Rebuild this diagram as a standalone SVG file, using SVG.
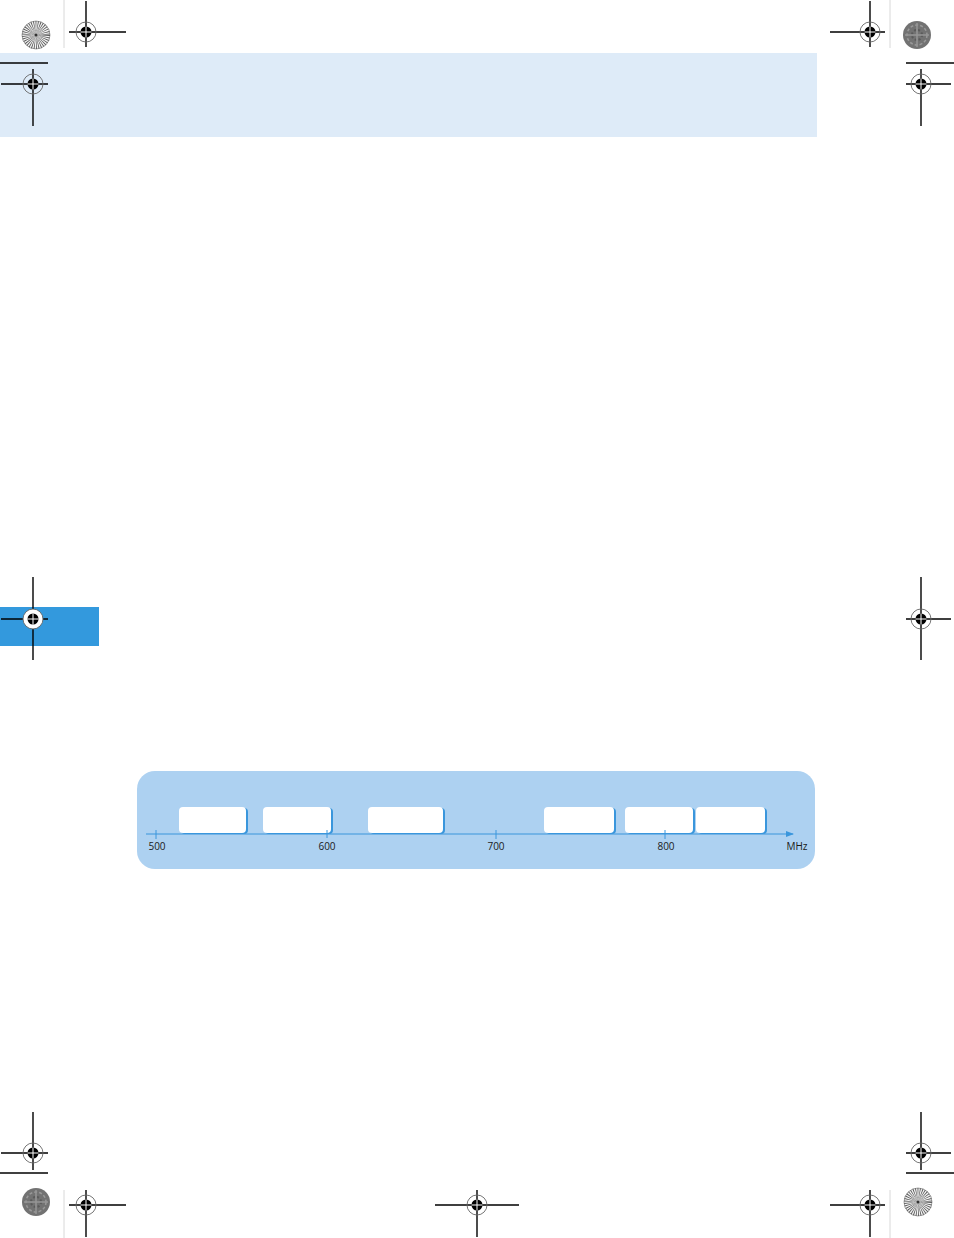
<svg xmlns="http://www.w3.org/2000/svg" width="954" height="1238" viewBox="0 0 954 1238">
<defs>
<style>
.ln{stroke:#000;stroke-width:1.4;fill:none}
.gl{stroke:#d8d8d8;stroke-width:1;fill:none}
.ring{stroke:#666;stroke-width:0.9;fill:none}
.lbl{font-family:"Open Sans","Noto Sans","DejaVu Sans",sans-serif;font-size:10px;fill:#1a1a1a}
.box{fill:#ffffff}
.sh{fill:#3a96dc}
</style>
<g id="reg">
<circle r="10" class="ring"/>
<circle r="5.5" fill="#000"/>
<line x1="-5.5" y1="0" x2="5.5" y2="0" stroke="#fff" stroke-width="1"/>
<line x1="0" y1="-5.5" x2="0" y2="5.5" stroke="#fff" stroke-width="1"/>
</g>
<g id="burst">
<circle r="14" fill="#f4f4f4"/>
<circle r="7" fill="none" stroke="#555" stroke-width="14" stroke-dasharray="0.5 0.8"/>
<circle r="14" fill="none" stroke="#666" stroke-width="0.6"/>
<circle r="1.5" fill="#333"/>
</g>
<g id="gray">
<circle r="14" fill="#727272"/>
<circle r="10" fill="none" stroke="#999" stroke-width="1.5" stroke-dasharray="3 2"/>
<circle r="5" fill="none" stroke="#5a5a5a" stroke-width="2" stroke-dasharray="2 2"/>
<path d="M-12 0H12M0 -12V12" stroke="#959595" stroke-width="1.5"/>
</g>
<marker id="arr" markerWidth="8" markerHeight="6" refX="7" refY="3" orient="auto" markerUnits="userSpaceOnUse">
<path d="M0 0L8 3L0 6Z" fill="#3a96dc"/>
</marker>
</defs>
<rect width="954" height="1238" fill="#ffffff"/>
<rect id="header" x="0" y="53" width="817" height="84" fill="#deebf8"/>
<rect id="tab" x="0" y="607" width="99" height="39" fill="#3399dd"/>

<g id="marks">
<line x1="64" y1="0" x2="64" y2="48" class="gl"/>
<line x1="890" y1="0" x2="890" y2="48" class="gl"/>
<line x1="64" y1="1190" x2="64" y2="1238" class="gl"/>
<line x1="890" y1="1190" x2="890" y2="1238" class="gl"/>
<line x1="0" y1="63" x2="48" y2="63" class="ln"/>
<line x1="906" y1="63" x2="954" y2="63" class="ln"/>
<line x1="0" y1="1173" x2="48" y2="1173" class="ln"/>
<line x1="906" y1="1173" x2="954" y2="1173" class="ln"/>
<use href="#burst" x="36" y="35"/>
<use href="#gray" x="917" y="35"/>
<use href="#gray" x="36" y="1202"/>
<use href="#burst" x="918" y="1202"/>
<path class="ln" d="M69 32H126M86 1V47"/><use href="#reg" x="86" y="32"/>
<path class="ln" d="M830 32H885M870 1V47"/><use href="#reg" x="870" y="32"/>
<path class="ln" d="M1 84H48M33 69V126"/><use href="#reg" x="33" y="84"/>
<path class="ln" d="M906 84H951M921 69V126"/><use href="#reg" x="921" y="84"/>
<path class="ln" d="M1 619H48M33 577V660"/><circle cx="33" cy="619" r="10" fill="#fff"/><use href="#reg" x="33" y="619"/>
<path class="ln" d="M906 619H951M921 577V660"/><use href="#reg" x="921" y="619"/>
<path class="ln" d="M1 1153H48M33 1112V1170"/><use href="#reg" x="33" y="1153"/>
<path class="ln" d="M906 1153H951M921 1112V1170"/><use href="#reg" x="921" y="1153"/>
<path class="ln" d="M69 1205H126M86 1190V1237"/><use href="#reg" x="86" y="1205"/>
<path class="ln" d="M435 1205H519M477 1190V1237"/><use href="#reg" x="477" y="1205"/>
<path class="ln" d="M830 1205H885M870 1190V1237"/><use href="#reg" x="870" y="1205"/>
</g>

<rect id="panel" x="137" y="771" width="678" height="98" rx="18" fill="#add1f1"/>

<g id="b1"><rect class="sh" x="181" y="808" width="67" height="26" rx="4"/><rect class="box" x="179" y="807" width="67" height="26" rx="4"/></g>
<g id="b2"><rect class="sh" x="265" y="808" width="68" height="26" rx="4"/><rect class="box" x="263" y="807" width="68" height="26" rx="4"/></g>
<g id="b3"><rect class="sh" x="370" y="808" width="75" height="26" rx="4"/><rect class="box" x="368" y="807" width="75" height="26" rx="4"/></g>
<g id="b4"><rect class="sh" x="546" y="808" width="70" height="26" rx="4"/><rect class="box" x="544" y="807" width="70" height="26" rx="4"/></g>
<g id="b5"><rect class="sh" x="627" y="808" width="68" height="26" rx="4"/><rect class="box" x="625" y="807" width="68" height="26" rx="4"/></g>
<g id="b6"><rect class="sh" x="698" y="808" width="69" height="26" rx="4"/><rect class="box" x="696" y="807" width="69" height="26" rx="4"/></g>

<g id="connectors">
<line x1="146" y1="834" x2="793" y2="834" stroke="#3a96dc" stroke-width="1.2" marker-end="url(#arr)"/>
<path d="M156 830V839M327 830V838M496 830V839M665 830V839" stroke="#3a96dc" stroke-width="1"/>
</g>

<g id="labels">
<text class="lbl" x="157" y="849.5" text-anchor="middle">500</text>
<text class="lbl" x="327" y="849.5" text-anchor="middle">600</text>
<text class="lbl" x="496" y="849.5" text-anchor="middle">700</text>
<text class="lbl" x="666" y="849.5" text-anchor="middle">800</text>
<text class="lbl" x="797" y="849.5" text-anchor="middle">MHz</text>
</g>
</svg>
